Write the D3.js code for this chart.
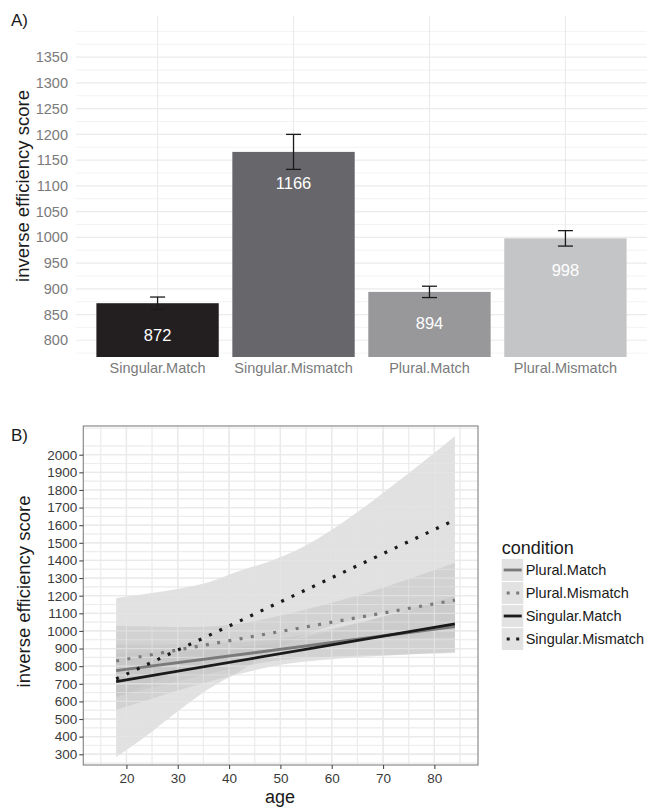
<!DOCTYPE html>
<html>
<head>
<meta charset="utf-8">
<script src="https://cdn.jsdelivr.net/npm/d3@7"></script>
<style>
  body { margin: 0; background: #fff; }
  svg { display: block; font-family: 'Liberation Sans', Arial, Helvetica, sans-serif; }
</style>
</head>
<body>
<div id="chart"></div>
<script>
// ---- panel A data ----
const conditions = ['Singular.Match', 'Singular.Mismatch', 'Plural.Match', 'Plural.Mismatch'];
const means = [872, 1166, 894, 998];
const errLow = [860, 1132, 883, 983];
const errHigh = [884, 1200, 905, 1013];
const barColors = ['#231f20', '#67676b', '#98989b', '#c4c5c7'];
const yTicksA = [800, 850, 900, 950, 1000, 1050, 1100, 1150, 1200, 1250, 1300, 1350];

// ---- panel B data ----
const groups = ['Plural.Match', 'Plural.Mismatch', 'Singular.Match', 'Singular.Mismatch'];
const lineAges = [18, 84];
const pluralMatchLine = [774, 1025];
const pluralMismatchLine = [829, 1175];
const singularMatchLine = [712, 1040];
const singularMismatchLine = [727, 1630];

const ribbonAges = [18, 24, 30, 36, 42, 48, 54, 60, 66, 72, 78, 84];
const pluralMatchLow = [624, 672, 715, 757, 795, 826, 846, 854, 861, 864, 870, 875];
const pluralMatchHigh = [924, 922, 925, 927, 935, 950, 976, 1014, 1051, 1094, 1134, 1175];
const pluralMismatchLow = [628, 695, 762, 821, 870, 897, 921, 938, 952, 959, 961, 965];
const pluralMismatchHigh = [1030, 1025, 1022, 1025, 1040, 1075, 1115, 1160, 1210, 1265, 1325, 1385];
const singularMatchLow = [552, 607, 662, 711, 756, 796, 823, 839, 853, 862, 872, 882];
const singularMatchHigh = [872, 877, 882, 891, 906, 926, 959, 1003, 1049, 1098, 1148, 1198];
const singularMismatchLow = [285, 407, 544, 670, 770, 878, 968, 1030, 1073, 1104, 1131, 1155];
const singularMismatchHigh = [1187, 1211, 1238, 1276, 1340, 1396, 1470, 1574, 1695, 1828, 1965, 2105];

const xTicksB = [20, 30, 40, 50, 60, 70, 80];
const yTicksB = d3.range(300, 2001, 100);

const lineColors = ['#7a7a7a', '#7a7a7a', '#1a1a1a', '#1a1a1a'];
const lineDashed = [false, true, false, true];

const svg = d3.select('#chart').append('svg')
  .attr('width', 647)
  .attr('height', 808);

// ================= panel A =================
const xA = d3.scaleBand().domain(conditions).range([76, 647]).paddingInner(0.1).paddingOuter(0.15);
const yA = d3.scaleLinear().domain([767.5, 1430]).range([357, 16]);

const gA = svg.append('g');

// minor grid
const minorA = d3.range(775, 1401, 25).filter(v => v % 50 !== 0 || v > 1350);
gA.selectAll('.minA').data(minorA).enter().append('line')
  .attr('x1', 76).attr('x2', 647)
  .attr('y1', d => yA(d)).attr('y2', d => yA(d))
  .attr('stroke', '#eeeeee').attr('stroke-width', 0.7);
gA.selectAll('.majA').data(yTicksA).enter().append('line')
  .attr('x1', 76).attr('x2', 647)
  .attr('y1', d => yA(d)).attr('y2', d => yA(d))
  .attr('stroke', '#ebebeb').attr('stroke-width', 1.2);
gA.selectAll('.vA').data(conditions).enter().append('line')
  .attr('x1', d => xA(d) + xA.bandwidth() / 2).attr('x2', d => xA(d) + xA.bandwidth() / 2)
  .attr('y1', 16).attr('y2', 357)
  .attr('stroke', '#ebebeb').attr('stroke-width', 1.2);

gA.selectAll('rect.bar').data(conditions).enter().append('rect')
  .attr('class', 'bar')
  .attr('x', d => xA(d))
  .attr('width', xA.bandwidth())
  .attr('y', (d, i) => yA(means[i]))
  .attr('height', (d, i) => yA(767.5) - yA(means[i]))
  .attr('fill', (d, i) => barColors[i]);

// error bars
const capW = 15;
conditions.forEach((c, i) => {
  const cx = xA(c) + xA.bandwidth() / 2;
  const eb = gA.append('g').attr('stroke', '#1a1a1a').attr('stroke-width', 1.3);
  eb.append('line').attr('x1', cx).attr('x2', cx).attr('y1', yA(errLow[i])).attr('y2', yA(errHigh[i]));
  eb.append('line').attr('x1', cx - capW / 2).attr('x2', cx + capW / 2).attr('y1', yA(errLow[i])).attr('y2', yA(errLow[i]));
  eb.append('line').attr('x1', cx - capW / 2).attr('x2', cx + capW / 2).attr('y1', yA(errHigh[i])).attr('y2', yA(errHigh[i]));
});

gA.selectAll('text.val').data(conditions).enter().append('text')
  .attr('class', 'val')
  .attr('x', d => xA(d) + xA.bandwidth() / 2)
  .attr('y', (d, i) => yA(means[i]) + 37.5)
  .attr('text-anchor', 'middle')
  .attr('fill', '#ffffff')
  .style('font-size', '16.5px')
  .text((d, i) => means[i]);

const axA = gA.append('g')
  .attr('transform', 'translate(76,0)')
  .call(d3.axisLeft(yA).tickValues(yTicksA).tickFormat(d3.format('d')).tickSize(0).tickPadding(8));
axA.select('.domain').remove();
axA.selectAll('text').style('font-size', '14.5px').attr('fill', '#7a7a7a').attr('font-family', null);

const axAx = gA.append('g')
  .attr('transform', 'translate(0,357)')
  .call(d3.axisBottom(xA).tickSize(0).tickPadding(5.7));
axAx.select('.domain').remove();
axAx.selectAll('text').style('font-size', '14.5px').attr('fill', '#7a7a7a').attr('font-family', null);

gA.append('text')
  .attr('transform', 'translate(29,186) rotate(-90)')
  .attr('text-anchor', 'middle')
  .attr('fill', '#1a1a1a')
  .style('font-size', '18.5px')
  .text('inverse efficiency score');

svg.append('text').attr('x', 11).attr('y', 26).style('font-size', '17px').attr('fill', '#1a1a1a').text('A)');

// ================= panel B =================
const xB = d3.scaleLinear().domain([11.6, 88.5]).range([83.3, 478]);
const yB = d3.scaleLinear().domain([239, 2163]).range([765, 426]);
const gB = svg.append('g');

const minorXB = d3.range(15, 90, 10);
const minorYB = d3.range(250, 2151, 100);

function drawGrid(g, majorColor, minorColor) {
  g.selectAll('.mx').data(minorXB).enter().append('line')
    .attr('x1', d => xB(d)).attr('x2', d => xB(d)).attr('y1', 426).attr('y2', 765)
    .attr('stroke', minorColor).attr('stroke-width', 0.9);
  g.selectAll('.my').data(minorYB).enter().append('line')
    .attr('y1', d => yB(d)).attr('y2', d => yB(d)).attr('x1', 83.3).attr('x2', 478)
    .attr('stroke', minorColor).attr('stroke-width', 0.9);
  g.selectAll('.Mx').data(xTicksB).enter().append('line')
    .attr('x1', d => xB(d)).attr('x2', d => xB(d)).attr('y1', 426).attr('y2', 765)
    .attr('stroke', majorColor).attr('stroke-width', 1.3);
  g.selectAll('.My').data(yTicksB).enter().append('line')
    .attr('y1', d => yB(d)).attr('y2', d => yB(d)).attr('x1', 83.3).attr('x2', 478)
    .attr('stroke', majorColor).attr('stroke-width', 1.3);
}
drawGrid(gB.append('g'), '#d9d9d9', '#dcdcdc');

const ribbons = [
  [pluralMatchLow, pluralMatchHigh],
  [pluralMismatchLow, pluralMismatchHigh],
  [singularMatchLow, singularMatchHigh],
  [singularMismatchLow, singularMismatchHigh]
];
const area = d3.area()
  .x(d => xB(d.age))
  .y0(d => yB(d.lo))
  .y1(d => yB(d.hi))
  .curve(d3.curveMonotoneX);
ribbons.forEach(([lo, hi]) => {
  const pts = ribbonAges.map((a, i) => ({ age: a, lo: lo[i], hi: hi[i] }));
  gB.append('path').datum(pts).attr('d', area)
    .attr('fill', '#c4c4c4').attr('fill-opacity', 0.5);
});

// lighter grid seen through the bands
drawGrid(gB.append('g').attr('opacity', 0.45), '#ffffff', '#ffffff');

const lines = [pluralMatchLine, pluralMismatchLine, singularMatchLine, singularMismatchLine];
const line = d3.line().x(d => xB(d[0])).y(d => yB(d[1]));
lines.forEach((vals, i) => {
  const pts = lineAges.map((a, j) => [a, vals[j]]);
  const p = gB.append('path').datum(pts).attr('d', line)
    .attr('fill', 'none')
    .attr('stroke', lineColors[i])
    .attr('stroke-width', lineDashed[i] ? 3.2 : 2.8);
  if (lineDashed[i]) p.attr('stroke-dasharray', '3 8.4');
});

gB.append('rect')
  .attr('x', 83.3).attr('y', 426).attr('width', 478 - 83.3).attr('height', 765 - 426)
  .attr('fill', 'none').attr('stroke', '#8a8a8a').attr('stroke-width', 1.2);

const axBy = gB.append('g')
  .attr('transform', 'translate(83.3,0)')
  .call(d3.axisLeft(yB).tickValues(yTicksB).tickFormat(d3.format('d')).tickSize(4).tickPadding(2));
axBy.select('.domain').remove();
axBy.selectAll('line').attr('stroke', '#4a4a4a').attr('stroke-width', 1.1);
axBy.selectAll('text').style('font-size', '13.5px').attr('fill', '#3a3a3a').attr('font-family', null);

const axBx = gB.append('g')
  .attr('transform', 'translate(0,765)')
  .call(d3.axisBottom(xB).tickValues(xTicksB).tickSize(4).tickPadding(4.2));
axBx.select('.domain').remove();
axBx.selectAll('line').attr('stroke', '#4a4a4a').attr('stroke-width', 1.1);
axBx.selectAll('text').style('font-size', '13.5px').attr('fill', '#3a3a3a').attr('font-family', null);

gB.append('text')
  .attr('transform', 'translate(29.5,591.5) rotate(-90)')
  .attr('text-anchor', 'middle')
  .attr('fill', '#1a1a1a')
  .style('font-size', '18.5px')
  .text('inverse efficiency score');

gB.append('text')
  .attr('x', 280).attr('y', 803)
  .attr('text-anchor', 'middle')
  .attr('fill', '#1a1a1a')
  .style('font-size', '18px')
  .text('age');

svg.append('text').attr('x', 11).attr('y', 441).style('font-size', '17px').attr('fill', '#1a1a1a').text('B)');

// legend
const lg = svg.append('g').attr('transform', 'translate(501.7,0)');
lg.append('text').attr('x', 0).attr('y', 554).style('font-size', '18px').attr('fill', '#1a1a1a').text('condition');
groups.forEach((name, i) => {
  const top = 559 + i * 23;
  lg.append('rect').attr('x', 0).attr('y', top).attr('width', 21.6).attr('height', 22)
    .attr('fill', '#e2e2e2');
  const l = lg.append('line')
    .attr('x1', 2).attr('x2', 20)
    .attr('y1', top + 11).attr('y2', top + 11)
    .attr('stroke', lineColors[i])
    .attr('stroke-width', lineDashed[i] ? 3.2 : 2.8);
  if (lineDashed[i]) l.attr('stroke-dasharray', '3 6.5').attr('stroke-dashoffset', -3);
  lg.append('text')
    .attr('x', 24).attr('y', top + 11)
    .attr('dy', '0.36em')
    .style('font-size', '14.5px')
    .attr('fill', '#1a1a1a')
    .text(name);
});
</script>
</body>
</html>
